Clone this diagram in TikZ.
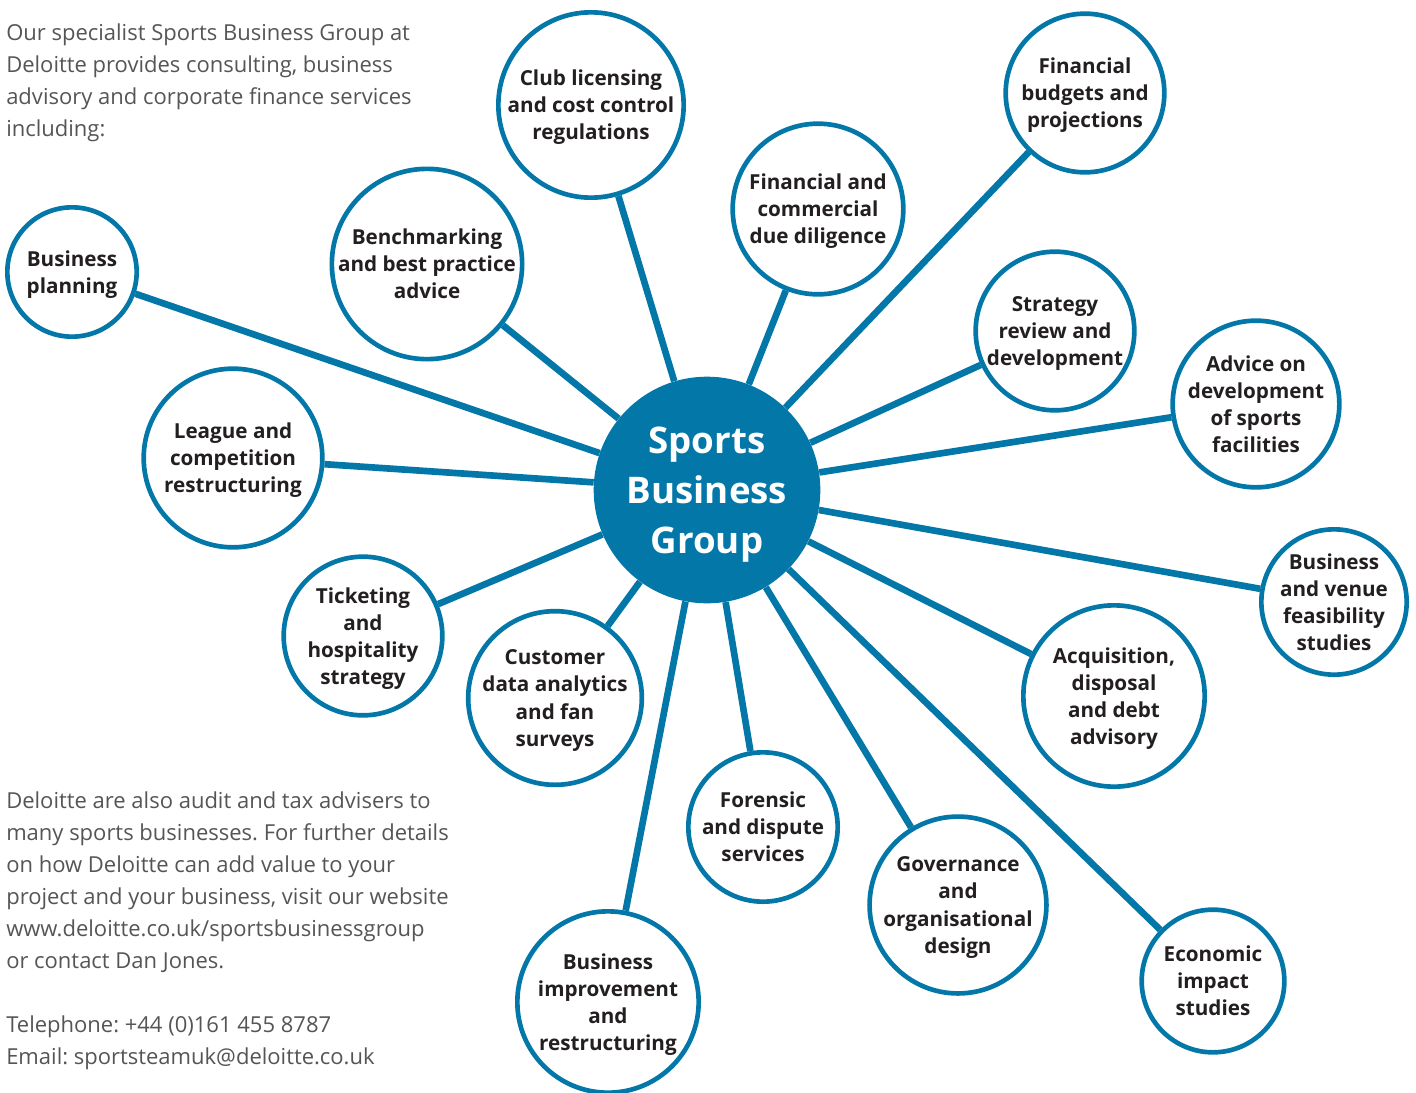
\documentclass[tikz,border=0pt]{standalone}
\usepackage{fontspec}
\setmainfont{Open Sans}
\usepackage{xcolor}
\usepackage{tikz}
\usetikzlibrary{positioning}
\frenchspacing

\definecolor{sbblue}{HTML}{0477A9}
\definecolor{sbtext}{HTML}{231F20}
\definecolor{sbgray}{HTML}{555555}

\begin{document}
\begin{tikzpicture}[
    x=0.75pt, y=-0.75pt,
    hub/.style={circle, fill=sbblue, minimum size=170pt, inner sep=0pt, text depth=-4pt, text=white, align=center, font=\fontsize{27.5}{37.5}\selectfont\bfseries},
    item/.style={circle, draw=sbblue, line width=3.5pt, fill=white, minimum size=#1, inner sep=0pt, text depth=-1.5pt, text=sbtext, align=center, font=\fontsize{15.5}{20.3}\selectfont\bfseries},
    blurb/.style={anchor=north west, inner sep=0pt, align=left, text=sbgray, font=\fontsize{16.5}{24}\selectfont},
    spoke/.style={draw=sbblue, line width=5pt}
]
\useasboundingbox (0,0) rectangle (1416,1092);

% Intro text - top left
\node[blurb] (intro) at (6,24) {Our specialist Sports Business Group at\\Deloitte provides consulting, business\\advisory and corporate finance services\\including:};

% Central hub
\node[hub] (hub) at (707,490) {Sports\\Business\\Group};

% Service circles - clockwise from the left
\node[item=97pt] (plan) at (72,272) {Business\\planning};
\node[item=142pt] (bench) at (427,264) {Benchmarking\\and best practice\\advice};
\node[item=139pt] (club) at (591,105) {Club licensing\\and cost control\\regulations};
\node[item=128pt] (dilig) at (818,209) {Financial and\\commercial\\due diligence};
\node[item=119pt] (budget) at (1085,93) {Financial\\budgets and\\projections};
\node[item=119pt] (strat) at (1055,331) {Strategy\\review and\\development};
\node[item=125pt] (facil) at (1256,404) {Advice on\\development\\of sports\\facilities};
\node[item=109pt] (venue) at (1334,602) {Business\\and venue\\feasibility\\studies};
\node[item=136pt] (acq) at (1114,696) {Acquisition,\\disposal\\and debt\\advisory};
\node[item=107pt] (econ) at (1213,981) {Economic\\impact\\studies};
\node[item=128pt] (gov) at (958,905) {Governance\\and\\organisational\\design};
\node[item=112pt] (foren) at (763,827) {Forensic\\and dispute\\services};
\node[item=136pt] (improve) at (608,1002) {Business\\improvement\\and\\restructuring};
\node[item=119pt] (cust) at (555,698) {Customer\\data analytics\\and fan\\surveys};
\node[item=119pt] (ticket) at (363,636) {Ticketing\\and\\hospitality\\strategy};
\node[item=134pt] (league) at (233,458) {League and\\competition\\restructuring};

% Spokes from the hub
\foreach \n in {plan,bench,club,dilig,budget,strat,facil,venue,acq,econ,gov,foren,improve,cust,ticket,league}
    \draw[spoke] (hub) -- (\n);

% Contact text - bottom left
\node[blurb] (contact) at (6,792) {Deloitte are also audit and tax advisers to\\many sports businesses. For further details\\on how Deloitte can add value to your\\project and your business, visit our website\\www.deloitte.co.uk/sportsbusinessgroup\\or contact Dan Jones.\\[24pt]Telephone: +44 (0)161 455 8787\\Email: sportsteamuk@deloitte.co.uk};

\end{tikzpicture}
\end{document}
